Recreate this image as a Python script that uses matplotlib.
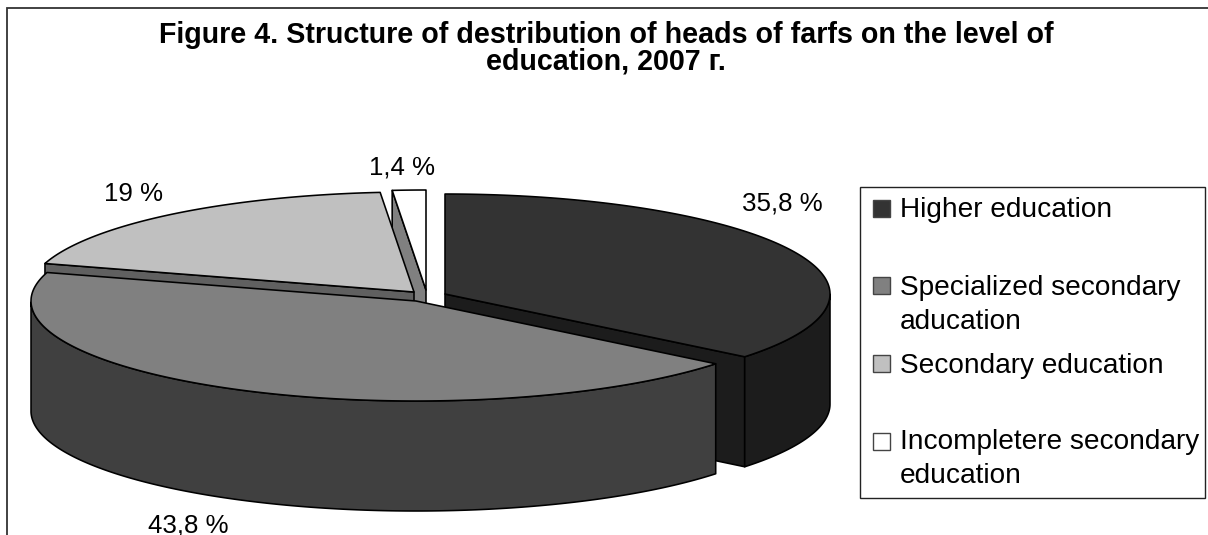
import numpy as np
import matplotlib
matplotlib.use("Agg")
import matplotlib.pyplot as plt
from matplotlib.patches import Polygon, Rectangle

plt.rcParams['font.family'] = ['Liberation Sans', 'DejaVu Sans']

categories = ["Higher education", "Specialized secondary\naducation",
              "Secondary education", "Incompletere secondary\neducation"]
values = [35.8, 43.8, 19.0, 1.4]
value_labels = ["35,8 %", "43,8 %", "19 %", "1,4 %"]
top_colors = ["#333333", "#808080", "#c0c0c0", "#ffffff"]
side_colors = ["#1c1c1c", "#404040", "#606060", "#808080"]
title_lines = ["Figure 4. Structure of destribution of heads of farfs on the level of",
               "education, 2007 г."]

W, H = 1208, 535
RX, RY, DEPTH = 385, 100, 110
centers = [(445, 294), (416, 301), (414, 292), (426, 290)]
label_pos = [(782, 211), (188.5, 532), (133.5, 201), (402, 175)]
legend_swatch_y = [209, 286, 364, 442]
legend_base_y = [217, 295, 373, 449]
LW = 1.15

fig = plt.figure(figsize=(W / 100, H / 100), dpi=100)
ax = fig.add_axes([0, 0, 1, 1])
ax.set_xlim(0, W)
ax.set_ylim(H, 0)
ax.axis("off")

fractions = np.array(values) / sum(values)
edges = np.concatenate([[0], np.cumsum(fractions)]) * 2 * np.pi


def pt(c, t):
    return np.column_stack([c[0] + RX * np.sin(t), c[1] - RY * np.cos(t)])


def add(poly, color, z):
    ax.add_patch(Polygon(poly, closed=True, facecolor=color, edgecolor="black",
                         linewidth=LW, joinstyle="round", zorder=z))


def draw_slice(i, z):
    c = centers[i]
    t = np.linspace(edges[i], edges[i + 1], 240)
    tip = np.array([c], dtype=float)
    front = t[(t > np.pi / 2) & (t < 3 * np.pi / 2)]
    a0, a1 = pt(c, edges[i]), pt(c, edges[i + 1])
    if i == 0:
        add(np.vstack([tip, a1, a1 + [0, DEPTH], tip + [0, DEPTH]]), side_colors[i], z)
    if i in (2, 3):
        add(np.vstack([tip, a0, a0 + [0, DEPTH], tip + [0, DEPTH]]), side_colors[i], z)
    if len(front):
        arc = pt(c, front)
        add(np.vstack([arc, (arc + [0, DEPTH])[::-1]]), side_colors[i], z + 0.1)
    add(np.vstack([tip, pt(c, t)]), top_colors[i], z + 0.2)


for order, i in enumerate([0, 3, 2, 1]):
    draw_slice(i, 2 + order)

# frame: only the left and top edges are inside the cropped picture
ax.plot([7, 7, W + 2], [H + 2, 8, 8], color="#333333", lw=1.3, zorder=1,
        solid_joinstyle="miter")

for y, line in zip([43, 70], title_lines):
    ax.text(606, y, line, ha="center", va="baseline", fontsize=20.6, fontweight="bold",
            color="black")

for (x, y), s in zip(label_pos, value_labels):
    ax.text(x, y, s, ha="center", va="baseline", fontsize=18.6, color="black",
            zorder=10, clip_on=False)

ax.add_patch(Rectangle((860, 187), 345, 311, facecolor="white", edgecolor="#222222",
                       linewidth=1.0, zorder=10))
for ys, yb, s, c in zip(legend_swatch_y, legend_base_y, categories, top_colors):
    ax.add_patch(Rectangle((873, ys - 9), 17, 17, facecolor=c, edgecolor="#444444",
                           linewidth=1.0, zorder=11))
    for k, part in enumerate(s.split("\n")):
        ax.text(900, yb + 34 * k, part, ha="left", va="baseline", fontsize=20.2,
                color="black", zorder=11)

fig.savefig("out.png", dpi=100, facecolor="white")
